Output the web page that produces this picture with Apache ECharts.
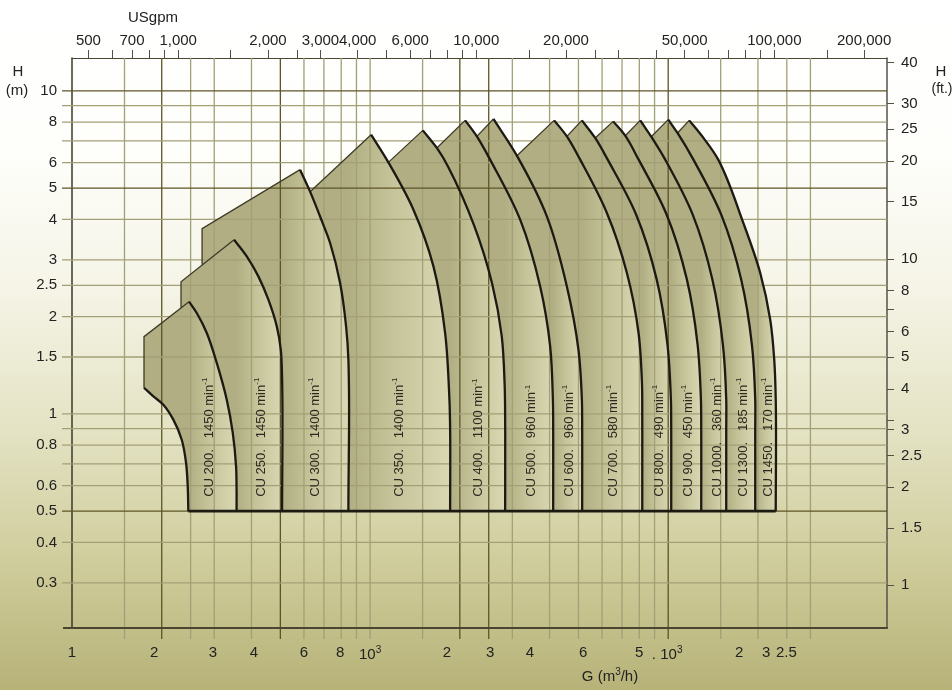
<!DOCTYPE html>
<html>
<head>
<meta charset="utf-8">
<title>CU pumps - H / G</title>
<script src="https://cdn.jsdelivr.net/npm/echarts@6/dist/echarts.min.js"></script>
<style>
  html, body { margin: 0; padding: 0; }
  body { background: linear-gradient(to bottom, #ffffff 0%, #fefefb 22%, #f5f4e6 42%, #e4e3c4 62%, #cfcc9b 82%, #b6b278 100%); }
  #main { width: 952px; height: 690px; }
</style>
</head>
<body>
<div id="main"></div>
<script>
var FONT = '"Liberation Sans", Arial, Helvetica, sans-serif';
var LOG = Math.log10;

// axis ranges (G in m3/h, H in m)
var gMin = 100, gMax = 54200;
var hMin = 0.2174, hMax = 12.64;
var m3hPerGpm = 0.2271;
var ftMin = 0.7394, ftMax = 41.36;

// pumps
var pumpNames = ['CU 200', 'CU 250', 'CU 300', 'CU 350', 'CU 400', 'CU 500', 'CU 600', 'CU 700', 'CU 800', 'CU 900', 'CU 1000', 'CU 1300', 'CU 1450'];
var pumpSpeeds = ['1450', '1450', '1400', '1400', '1100', '960', '960', '580', '490', '450', '360', '185', '170'];
var labelG = [288, 433, 654, 1251, 2316, 3488, 4665, 6554, 9350, 11700, 14570, 17888, 21710];
var labelH = 0.554;

// [G m3/h, H m]  top edge = left corner -> peak, curve = peak -> H 0.5
var foot200 = [[174.4, 1.205], [187.5, 1.133], [202.5, 1.068], [218.7, 0.96], [233.4, 0.832], [241.3, 0.706], [244.5, 0.595], [245.6, 0.5]];
var top200 = [[174.4, 1.205], [174.4, 1.734], [246.9, 2.226]];
var curve200 = [[246.9, 2.226], [262.1, 2.053], [283.2, 1.78], [305.9, 1.438], [330.5, 1.106], [346.2, 0.873], [355.1, 0.688], [356.5, 0.582], [356.5, 0.5]];

var top250 = [[232.1, 2.132], [232.1, 2.566], [349.7, 3.462]];
var curve250 = [[349.7, 3.462], [385.7, 3.074], [421.9, 2.665], [455.8, 2.257], [486.4, 1.866], [501.6, 1.58], [506.7, 1.276], [506.7, 0.5]];

var top300 = [[273.1, 2.897], [273.1, 3.745], [582.2, 5.702]];
var curve300 = [[582.2, 5.702], [629.1, 4.875], [690.2, 3.936], [734.2, 3.381], [793.1, 2.542], [830.7, 1.866], [845.6, 1.472], [845.6, 0.5]];

var top350 = [[629.1, 4.875], [1007.8, 7.318]];
var curve350 = [[1007.8, 7.318], [1151.7, 6.007], [1397.6, 4.287], [1631.2, 2.862], [1785.3, 1.78], [1845.6, 1.106], [1855.6, 0.893], [1855.6, 0.5]];

var top400 = [[1151.7, 6.007], [1502.6, 7.545]];
var curve400 = [[1502.6, 7.545], [1674.6, 6.657], [1827, 5.826], [2234, 3.825], [2567, 2.53], [2763, 1.747], [2827, 1.231], [2838.1, 0.96], [2838.1, 0.5]];

var top500 = [[1674.6, 6.657], [2083.8, 8.104]];
var curve500 = [[2083.8, 8.104], [2280.9, 7.23], [2527.1, 6.124], [3187.3, 3.993], [3719.9, 2.481], [4018.4, 1.618], [4103.1, 1.106], [4112.6, 0.893], [4112.6, 0.5]];

var top600 = [[2280.9, 7.23], [2592.3, 8.185]];
var curve600 = [[2592.3, 8.185], [3107.1, 6.301], [3917.4, 4.088], [4571.6, 2.481], [5000.3, 1.58], [5133.5, 1.106], [5145.4, 0.893], [5145.4, 0.5]];

var top700 = [[3107.1, 6.301], [4144.5, 8.104]];
var curve700 = [[4144.5, 8.104], [4571.6, 7.23], [5066.6, 6.124], [6228.2, 4.188], [7269.8, 2.731], [7953.2, 1.78], [8164.6, 1.246], [8183.6, 0.96], [8183.6, 0.5]];

var top800 = [[4571.6, 7.23], [5133.5, 8.104]];
var curve800 = [[5133.5, 8.104], [5689.3, 7.148], [6266.8, 6.124], [7810, 4.137], [9152.6, 2.604], [9946, 1.637], [10211, 1.106], [10235, 0.893], [10235, 0.5]];

var top900 = [[5689.3, 7.148], [6539, 8.046]];
var curve900 = [[6539, 8.046], [7174.9, 7.266], [7959.3, 6.124], [9884.9, 4.137], [11556, 2.604], [12552, 1.637], [12876, 1.106], [12906, 0.893], [12906, 0.5]];

var top1000 = [[7174.9, 7.266], [8058.2, 8.104]];
var curve1000 = [[8058.2, 8.104], [8771.4, 7.214], [9771.5, 6.124], [12086, 4.137], [14073, 2.604], [15261, 1.637], [15655, 1.106], [15655, 0.893], [15655, 0.5]];

var top1300 = [[8771.4, 7.214], [10000, 8.145]];
var curve1300 = [[10000, 8.145], [10745, 7.407], [12151, 6.124], [15062, 4.137], [17580, 2.604], [19093, 1.637], [19586, 1.106], [19586, 0.893], [19586, 0.5]];

var top1450 = [[10745, 7.407], [11763, 8.104]];
var curve1450 = [[11763, 8.104], [13106, 7.164], [14720, 6.124], [17854, 3.908], [20358, 2.731], [21994, 1.957], [22684, 1.472], [22949, 1.106], [22949, 0.5]];

var tops = [top200, top250, top300, top350, top400, top500, top600, top700, top800, top900, top1000, top1300, top1450];
var curves = [curve200, curve250, curve300, curve350, curve400, curve500, curve600, curve700, curve800, curve900, curve1000, curve1300, curve1450];

// axis ticks / labels
var gLabelPos = [100, 188.5, 297, 408, 600, 793, 1000, 1810, 2530, 3440, 5190, 7990, 9920, 17300, 21300, 24900];
var gLabelText = ['1', '2', '3', '4', '6', '8', '10{s|3}', '2', '3', '4', '6', '5', '. 10{s|3}', '2', '3', '2.5'];
var gGrid = [150, 200, 250, 300, 400, 500, 600, 700, 800, 900, 1000, 1500, 2000, 2500, 3000, 4000, 5000, 6000, 7000, 8000, 9000, 10000, 15000, 20000, 25000, 30000];
var gGridDark = [200, 500, 2000, 2500, 10000];
var gpmTicks = [500, 600, 700, 800, 900, 1000, 1500, 2000, 2500, 3000, 4000, 5000, 6000, 7000, 8000, 9000, 10000, 15000, 20000, 25000, 30000, 40000, 50000, 60000, 70000, 80000, 90000, 100000, 150000, 200000];
var gpmLabels = [500, 700, 1000, 2000, 3000, 4000, 6000, 10000, 20000, 50000, 100000, 200000];
var hGrid = [10, 9, 8, 7, 6, 5, 4, 3, 2.5, 2, 1.5, 1, 0.9, 0.8, 0.7, 0.6, 0.5, 0.4, 0.3];
var hGridDark = [10, 5, 0.5];
var hLabels = [10, 8, 6, 5, 4, 3, 2.5, 2, 1.5, 1, 0.8, 0.6, 0.5, 0.4, 0.3];
var ftTicks = [40, 30, 25, 20, 15, 10, 8, 7, 6, 5, 4, 3.2, 3, 2.5, 2, 1.5, 1];
var ftLabels = [40, 30, 25, 20, 15, 10, 8, 6, 5, 4, 3, 2.5, 2, 1.5, 1];

function last(a) { return a[a.length - 1]; }
function unit(dx, dy) { var l = Math.sqrt(dx * dx + dy * dy) || 1; return [dx / l, dy / l]; }

// smooth path through pixel points: tangent = bisector of neighbouring segments, handles = chord / 3
function spline(pts) {
  var n = pts.length, tg = [], i;
  for (i = 0; i < n; i++) {
    var a = pts[Math.max(i - 1, 0)], b = pts[i], c = pts[Math.min(i + 1, n - 1)];
    var u1 = i > 0 ? unit(b[0] - a[0], b[1] - a[1]) : null;
    var u2 = i < n - 1 ? unit(c[0] - b[0], c[1] - b[1]) : null;
    if (!u1) tg.push(u2); else if (!u2) tg.push(u1); else tg.push(unit(u1[0] + u2[0], u1[1] + u2[1]));
  }
  var d = '';
  for (i = 0; i < n - 1; i++) {
    var p1 = pts[i], p2 = pts[i + 1];
    var L = Math.sqrt((p2[0] - p1[0]) * (p2[0] - p1[0]) + (p2[1] - p1[1]) * (p2[1] - p1[1])) / 3;
    d += ' C' + (p1[0] + tg[i][0] * L) + ' ' + (p1[1] + tg[i][1] * L) + ' ' +
         (p2[0] - tg[i + 1][0] * L) + ' ' + (p2[1] - tg[i + 1][1] * L) + ' ' + p2[0] + ' ' + p2[1];
  }
  return d;
}
function lines(pts, move) {
  var d = '';
  for (var i = 0; i < pts.length; i++) d += (i === 0 && move ? 'M' : ' L') + pts[i][0] + ' ' + pts[i][1];
  return d;
}
function coordFn(api) {
  return function (p) { return api.coord([LOG(p[0]), LOG(p[1])]); };
}
function pickLabel(pos, text) {
  return function (v) {
    for (var i = 0; i < pos.length; i++) if (Math.abs(LOG(pos[i]) - v) < 1e-6) return text[i];
    return '';
  };
}
function numText(v) { return String(parseFloat(Math.pow(10, v).toPrecision(3))); }
function commaText(v) { return String(Math.round(Math.pow(10, v))).replace(/\B(?=(\d{3})+(?!\d))/g, ','); }

var pumpData = [];
for (var k = pumpNames.length - 1; k >= 0; k--) pumpData.push([LOG(last(tops[k])[0]), LOG(last(tops[k])[1]), k]);

var gridItems = [];
gGrid.forEach(function (v) { gridItems.push(['v', v, gGridDark.indexOf(v) >= 0]); });
hGrid.forEach(function (v) { gridItems.push(['h', v, hGridDark.indexOf(v) >= 0]); });

function renderFill(params, api) {
  var k = api.value(2);
  var c = coordFn(api);
  var top = tops[k].map(c), cur = curves[k].map(c);
  var d = lines(top, true) + spline(cur);
  var x1;
  if (k === 0) {
    var f = foot200.map(c).reverse();
    d += ' L' + f[0][0] + ' ' + f[0][1] + spline(f);
    x1 = f[0][0];
  } else {
    var pe = c(last(curves[k - 1]));
    d += ' L' + pe[0] + ' ' + pe[1];
    x1 = pe[0];
  }
  d += ' Z';
  return {
    type: 'path', z2: 100 - k,
    shape: { pathData: d },
    style: {
      fill: new echarts.graphic.LinearGradient(x1, 0, last(cur)[0], 0, [
        { offset: 0, color: '#b0ae82' }, { offset: 0.45, color: '#c6c49a' }, { offset: 1, color: '#dad8b3' }
      ], true),
      stroke: null
    }
  };
}

function renderStroke(params, api) {
  var k = api.value(2);
  var c = coordFn(api);
  var top = tops[k].map(c), cur = curves[k].map(c);
  var kids = [
    { type: 'path', shape: { pathData: lines(top, true) }, style: { fill: 'none', stroke: '#3e3a27', lineWidth: 1.3 } },
    { type: 'path', shape: { pathData: 'M' + cur[0][0] + ' ' + cur[0][1] + spline(cur) }, style: { fill: 'none', stroke: '#1c1a13', lineWidth: 2.3 } }
  ];
  if (k === 0) {
    var f = foot200.map(c);
    var endP = c(last(curves[curves.length - 1]));
    kids.push({ type: 'path', shape: { pathData: 'M' + f[0][0] + ' ' + f[0][1] + spline(f) }, style: { fill: 'none', stroke: '#1c1a13', lineWidth: 2.3 } });
    kids.push({ type: 'line', shape: { x1: last(f)[0], y1: last(f)[1], x2: endP[0], y2: endP[1] }, style: { stroke: '#1c1a13', lineWidth: 2.6 } });
  }
  return { type: 'group', children: kids };
}

function renderLabel(params, api) {
  var k = api.value(2);
  var p = api.coord([LOG(labelG[k]), LOG(labelH)]);
  return {
    type: 'text', x: p[0], y: p[1], rotation: Math.PI / 2,
    style: {
      text: pumpNames[k] + '.   ' + pumpSpeeds[k] + ' min{s|-1}',
      fontSize: 13, fontFamily: FONT, fill: '#2b2820',
      align: 'left', verticalAlign: 'middle',
      rich: { s: { fontSize: 8, fontFamily: FONT, fill: '#2b2820', padding: [0, 0, 9, 0] } }
    }
  };
}

function renderGrid(params, api) {
  var it = gridItems[params.dataIndex];
  var col = it[2] ? '#5c5426' : '#a39f77';
  var a, b;
  if (it[0] === 'v') {
    a = api.coord([LOG(it[1]), LOG(hMin)]);
    b = api.coord([LOG(it[1]), LOG(hMax)]);
    return { type: 'line', shape: { x1: a[0], y1: a[1] + 11, x2: b[0], y2: b[1] }, style: { stroke: col, lineWidth: 1.3 } };
  }
  a = api.coord([LOG(gMin), LOG(it[1])]);
  b = api.coord([LOG(gMax), LOG(it[1])]);
  return { type: 'line', shape: { x1: a[0] - 10, y1: a[1], x2: b[0], y2: b[1] }, style: { stroke: col, lineWidth: 1.3 } };
}

function renderBase(params, api) {
  var a = api.coord([LOG(gMin), LOG(hMin)]);
  var b = api.coord([LOG(gMax), LOG(hMin)]);
  return { type: 'line', shape: { x1: a[0] - 9, y1: a[1], x2: b[0], y2: b[1] }, style: { stroke: '#4a4531', lineWidth: 2 } };
}

var labelStyle = { color: '#222', fontSize: 15, fontFamily: FONT };

var chart = echarts.init(document.getElementById('main'), null, { renderer: 'canvas' });
chart.setOption({
  animation: false,
  backgroundColor: 'transparent',
  grid: { left: 72, right: 65, top: 58, bottom: 62, containLabel: false, outerBoundsMode: 'none' },
  xAxis: [
    {
      type: 'value', position: 'bottom', min: LOG(gMin), max: LOG(gMax),
      axisLine: { show: true, onZero: false, lineStyle: { color: '#4a4531', width: 2 } },
      axisTick: { show: false }, splitLine: { show: false },
      axisLabel: Object.assign({
        customValues: gLabelPos.map(LOG), formatter: pickLabel(gLabelPos, gLabelText), margin: 17,
        rich: { s: { fontSize: 10, fontFamily: FONT, color: '#222', padding: [0, 0, 10, 0] } }
      }, labelStyle)
    },
    {
      type: 'value', position: 'top', min: LOG(gMin / m3hPerGpm), max: LOG(gMax / m3hPerGpm),
      axisLine: { show: true, onZero: false, lineStyle: { color: '#4a4633', width: 1 } },
      axisTick: { show: true, customValues: gpmTicks.map(LOG), length: 8, lineStyle: { color: '#555140' } },
      splitLine: { show: false },
      axisLabel: Object.assign({ customValues: gpmLabels.map(LOG), formatter: commaText, margin: 10 }, labelStyle)
    }
  ],
  yAxis: [
    {
      type: 'value', position: 'left', min: LOG(hMin), max: LOG(hMax),
      axisLine: { show: true, onZero: false, lineStyle: { color: '#3b3827', width: 1.5 } },
      axisTick: { show: false }, splitLine: { show: false },
      axisLabel: Object.assign({ customValues: hLabels.map(LOG), formatter: numText, margin: 15 }, labelStyle)
    },
    {
      type: 'value', position: 'right', min: LOG(ftMin), max: LOG(ftMax),
      axisLine: { show: true, onZero: false, lineStyle: { color: '#55524a', width: 1.5 } },
      axisTick: { show: true, customValues: ftTicks.map(LOG), length: 7, lineStyle: { color: '#555140' } },
      splitLine: { show: false },
      axisLabel: Object.assign({ customValues: ftLabels.map(LOG), formatter: numText, margin: 14 }, labelStyle)
    }
  ],
  graphic: [
    { type: 'text', x: 153, y: 18, style: { text: 'USgpm', font: '15px ' + FONT, fill: '#222', align: 'center', verticalAlign: 'middle' } },
    { type: 'text', x: 18, y: 72, style: { text: 'H', font: '15px ' + FONT, fill: '#222', align: 'center', verticalAlign: 'middle' } },
    { type: 'text', x: 17, y: 91, style: { text: '(m)', font: '15px ' + FONT, fill: '#222', align: 'center', verticalAlign: 'middle' } },
    { type: 'text', x: 941, y: 72, style: { text: 'H', font: '15px ' + FONT, fill: '#222', align: 'center', verticalAlign: 'middle' } },
    { type: 'text', x: 942, y: 89, style: { text: '(ft.)', font: '14px ' + FONT, fill: '#222', align: 'center', verticalAlign: 'middle' } },
    {
      type: 'text', x: 610, y: 677,
      style: {
        text: 'G (m{s|3}/h)', fontSize: 15, fontFamily: FONT, fill: '#222', align: 'center', verticalAlign: 'middle',
        rich: { s: { fontSize: 10, fontFamily: FONT, fill: '#222', padding: [0, 0, 10, 0] } }
      }
    }
  ],
  series: [
    { type: 'custom', name: 'fill', z: 2, silent: true, renderItem: renderFill, data: pumpData, encode: { x: 0, y: 1 } },
    { type: 'custom', name: 'grid', z: 3, silent: true, renderItem: renderGrid, data: gridItems.map(function () { return [LOG(gMin), LOG(hMin)]; }), encode: { x: 0, y: 1 } },
    { type: 'custom', name: 'base', z: 3, silent: true, renderItem: renderBase, data: [[LOG(gMin), LOG(hMin)]], encode: { x: 0, y: 1 } },
    { type: 'custom', name: 'outline', z: 4, silent: true, renderItem: renderStroke, data: pumpData, encode: { x: 0, y: 1 } },
    { type: 'custom', name: 'labels', z: 5, silent: true, renderItem: renderLabel, data: pumpData, encode: { x: 0, y: 1 } }
  ]
});
</script>
</body>
</html>
